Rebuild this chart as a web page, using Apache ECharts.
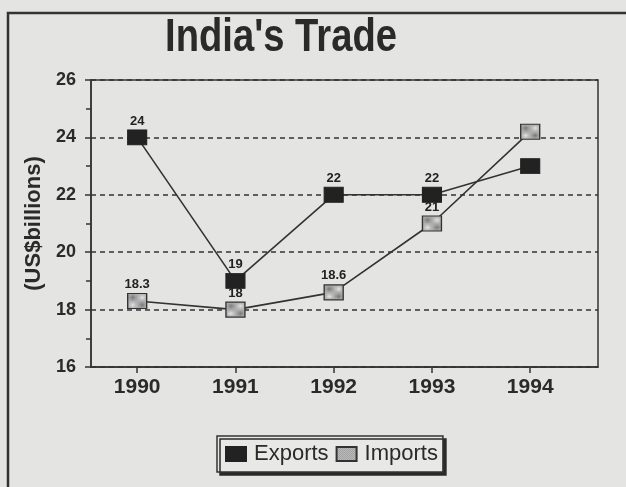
<!DOCTYPE html>
<html><head><meta charset="utf-8">
<script src="https://cdn.jsdelivr.net/npm/echarts@6/dist/echarts.min.js"></script>
<style>html,body{margin:0;padding:0;background:#e4e4e2;}#c{width:626px;height:487px;}</style>
</head><body><div id="c"></div>
<script>
const years = [1990, 1991, 1992, 1993, 1994];
const exportsData = [24, 19, 22, 22, 23];
const importsData = [18.3, 18, 18.6, 21, 24.2];
const exportLabels = ['24', '19', '22', '22', ''];
const importLabels = ['18.3', '18', '18.6', '21', ''];

const pc = document.createElement('canvas');
pc.width = 4; pc.height = 4;
const g = pc.getContext('2d');
g.fillStyle = '#e2e2e2'; g.fillRect(0, 0, 4, 4);
g.fillStyle = '#7a7a7a';
[[0,0],[2,0],[1,1],[3,1],[0,2],[2,2],[1,3],[3,3]].forEach(p => { if ((p[0] * 3 + p[1]) % 2 === 0) g.fillRect(p[0], p[1], 1, 1); });
const pattern = { image: pc, repeat: 'repeat' };

const sans = '"Liberation Sans", Arial, sans-serif';

function mk(vals, labels) {
  return vals.map((v, i) => ({ value: [years[i], v], label: { show: labels[i] !== '', formatter: labels[i] } }));
}

const chart = echarts.init(document.getElementById('c'));
chart.setOption({
  backgroundColor: '#e4e4e2',
  animation: false,
  graphic: [{
    type: 'rect', shape: { x: 8, y: 13, width: 640, height: 500 },
    style: { fill: 'none', stroke: '#333', lineWidth: 2.5 }, silent: true, z: -1
  }, {
    type: 'text', x: 281, y: 15, scaleX: 0.83, silent: true,
    style: { text: "India's Trade", fontFamily: sans, fontWeight: 'bold', fontSize: 46, fill: '#2a2a2a', align: 'center', verticalAlign: 'top' }
  }],
  legend: {
    left: 217, top: 436, itemWidth: 20, itemHeight: 14, itemGap: 7,
    padding: [7, 5, 7, 8],
    borderColor: '#333', borderWidth: 1.5, backgroundColor: '#e8e8e6',
    shadowColor: '#2a2a2a', shadowOffsetX: 3, shadowOffsetY: 3, shadowBlur: 0,
    textStyle: { fontFamily: sans, fontSize: 22, color: '#2a2a2a', padding: [0, 0, 0, 3] },
    data: [{ name: 'Exports', icon: 'rect' }, { name: 'Imports', icon: 'rect' }]
  },
  grid: { left: 91, right: 28, top: 80, bottom: 120, show: true, borderColor: '#333', borderWidth: 1.5, backgroundColor: 'transparent' },
  xAxis: {
    type: 'value', min: 1989.53, max: 1994.69,
    axisLine: { lineStyle: { color: '#333', width: 1.5 } },
    axisTick: { show: true, customValues: years, length: 6, lineStyle: { color: '#333', width: 1.5 } },
    axisLabel: { customValues: years, formatter: v => String(v), fontFamily: sans, fontWeight: 'bold', fontSize: 21, color: '#2a2a2a', margin: 10 },
    splitLine: { show: false }
  },
  yAxis: {
    type: 'value', min: 16, max: 26, interval: 2,
    name: '(US$billions)', nameLocation: 'middle', nameRotate: 90, nameGap: 43,
    nameTextStyle: { fontFamily: sans, fontWeight: 'bold', fontSize: 22, color: '#2a2a2a' },
    axisLine: { show: true, lineStyle: { color: '#333', width: 1.5 } },
    axisTick: { show: true, length: 6, lineStyle: { color: '#333', width: 1.5 } },
    minorTick: { show: true, splitNumber: 2, length: 5, lineStyle: { color: '#333', width: 1.5 } },
    axisLabel: { fontFamily: sans, fontWeight: 'bold', fontSize: 18, color: '#2a2a2a', margin: 15 },
    splitLine: { show: true, lineStyle: { color: '#333', type: [5, 4], width: 1.5 } }
  },
  series: [
    {
      name: 'Exports', type: 'line', data: mk(exportsData, exportLabels),
      symbol: 'rect', symbolSize: [19, 15],
      lineStyle: { color: '#333', width: 1.6 },
      itemStyle: { color: '#222', borderColor: '#222', borderWidth: 1 },
      label: { position: 'top', distance: 2, fontFamily: sans, fontWeight: 'bold', fontSize: 13, color: '#222' },
      z: 3
    },
    {
      name: 'Imports', type: 'line', data: mk(importsData, importLabels),
      symbol: 'rect', symbolSize: [19, 15],
      lineStyle: { color: '#333', width: 1.6 },
      itemStyle: { color: pattern, borderColor: '#333', borderWidth: 1.2 },
      label: { position: 'top', distance: 2, fontFamily: sans, fontWeight: 'bold', fontSize: 13, color: '#222' },
      z: 2
    }
  ]
});
</script></body></html>
